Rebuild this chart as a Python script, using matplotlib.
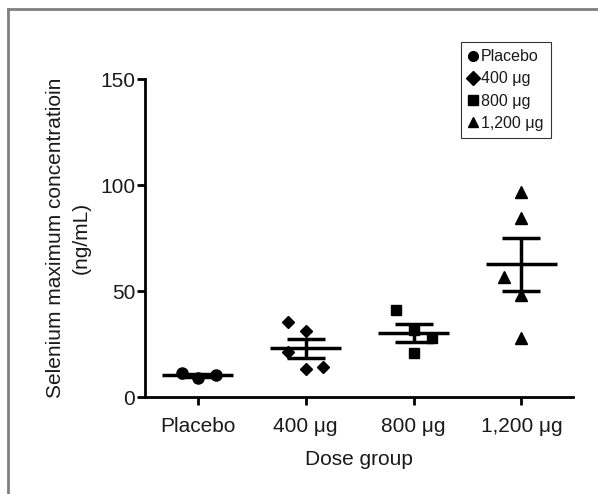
import numpy as np
import matplotlib
matplotlib.use("Agg")
import matplotlib.pyplot as plt
from matplotlib.lines import Line2D

plt.rcParams["font.family"] = ["Liberation Sans", "DejaVu Sans"]

groups = ["Placebo", "400 \u03bcg", "800 \u03bcg", "1,200 \u03bcg"]
markers = ["o", "D", "s", "^"]

placebo = [11.3, 9.0, 10.4]
dose_400 = [35.4, 31.1, 21.2, 13.2, 14.2]
dose_800 = [41.0, 31.5, 20.8, 27.8]
dose_1200 = [96.7, 84.4, 56.6, 48.1, 27.8]
values = [placebo, dose_400, dose_800, dose_1200]

# horizontal scatter offsets of the points inside each group
offsets = [
    [-0.15, 0.0, 0.17],
    [-0.16, 0.0, -0.16, 0.0, 0.16],
    [-0.16, 0.0, 0.0, 0.17],
    [0.0, 0.0, -0.16, 0.0, 0.0],
]
marker_sizes = [8, 6.5, 7.5, 8]

fig = plt.figure(figsize=(5.98, 4.94), dpi=100)
ax = fig.add_axes([0.2425, 0.196, 0.716, 0.644])

for i, (vals, offs) in enumerate(zip(values, offsets)):
    vals = np.array(vals)
    x = i + np.array(offs)
    ax.plot(x, vals, linestyle="none", marker=markers[i], color="black",
            markersize=marker_sizes[i], zorder=3)
    mean = vals.mean()
    sem = vals.std(ddof=1) / np.sqrt(len(vals))
    ax.hlines(mean, i - 0.33, i + 0.33, color="black", linewidth=2.5, zorder=4)
    ax.errorbar(i, mean, yerr=sem, color="black", linewidth=2.5,
                capsize=14, capthick=2.5, zorder=4)

ax.set_xlim(-0.49, 3.48)
ax.set_ylim(0, 150)
ax.set_yticks([0, 50, 100, 150])
ax.set_xticks(range(len(groups)))
ax.set_xticklabels(groups)
ax.tick_params(axis="both", labelsize=15, width=2, length=6, color="black",
               labelcolor="#1a1a1a")
ax.tick_params(axis="x", pad=8)
ax.tick_params(axis="y", pad=1)

for side in ["top", "right"]:
    ax.spines[side].set_visible(False)
for side in ["left", "bottom"]:
    ax.spines[side].set_linewidth(2)

ax.set_xlabel("Dose group", fontsize=15, labelpad=10, color="#1a1a1a")
ax.set_ylabel("Selenium maximum concentratioin\n(ng/mL)", fontsize=15,
              labelpad=7, color="#1a1a1a", linespacing=1.4)

handles = [Line2D([], [], linestyle="none", marker=m, color="black",
                  markersize=7) for m in markers]
leg = ax.legend(handles, groups, loc="upper left",
                bbox_to_anchor=(461 / 598, 1 - 42 / 494),
                bbox_transform=fig.transFigure, borderaxespad=0,
                fontsize=11.5, frameon=True, fancybox=False, handlelength=0.55,
                handletextpad=0.25, labelspacing=0.45, borderpad=0.45)
leg.get_frame().set_edgecolor("black")
leg.get_frame().set_linewidth(0.8)
for t in leg.get_texts():
    t.set_color("#1a1a1a")

# grey frame around the figure (top and left edges)
fig.add_artist(Line2D([8 / 598, 8 / 598], [0, 1 - 9 / 494],
                      transform=fig.transFigure, color="#808080", linewidth=2))
fig.add_artist(Line2D([8 / 598, 1], [1 - 9 / 494, 1 - 9 / 494],
                      transform=fig.transFigure, color="#808080", linewidth=2))

fig.savefig("out.png", dpi=100)
